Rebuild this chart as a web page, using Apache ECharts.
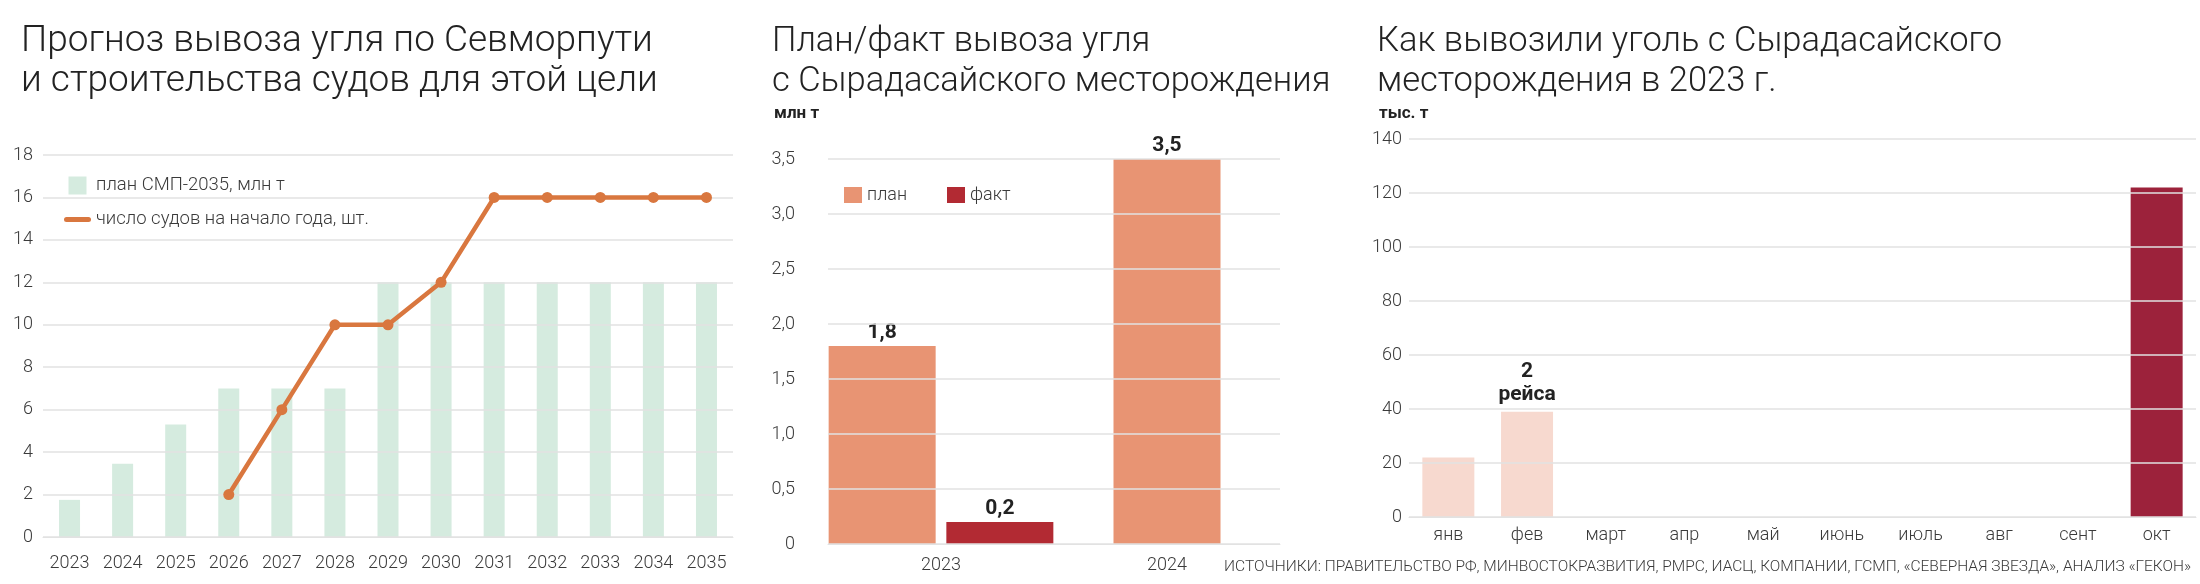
<!DOCTYPE html>
<html>
<head>
<meta charset="utf-8">
<script src="https://cdn.jsdelivr.net/npm/echarts@6/dist/echarts.min.js"></script>
<style>
  html, body { margin: 0; padding: 0; background: #fff; }
  #chart { width: 2200px; height: 584px; }
</style>
</head>
<body>
<div id="chart"></div>
<script>
// chart 1: Севморпуть forecast
const years = ['2023', '2024', '2025', '2026', '2027', '2028', '2029', '2030', '2031', '2032', '2033', '2034', '2035']
const planSmp = [1.75, 3.45, 5.3, 7, 7, 7, 12, 12, 12, 12, 12, 12, 12]
const ships = [null, null, null, 2, 6, 10, 10, 12, 16, 16, 16, 16, 16]

// chart 2: plan / fact, mln t
const planYears = ['2023', '2024']
const plan = [1.8, 3.5]
const fact = [0.2, null]

// chart 3: monthly export 2023, thousand t
const months = ['янв', 'фев', 'март', 'апр', 'май', 'июнь', 'июль', 'авг', 'сент', 'окт']
const exported = [22, 39, null, null, null, null, null, null, null, 122]
const tripNotes = ['', '2\nрейса', '', '', '', '', '', '', '', '']

const FONT = 'Roboto'
const GRID_COLOR = '#e2e2e2'
const TEXT = '#3a3a3a'

const chart = echarts.init(document.getElementById('chart'))

const titleStyle = size => ({ fontFamily: FONT, fontWeight: 300, fontSize: size, lineHeight: 40, color: '#222' })
const unitStyle = { fontFamily: FONT, fontWeight: 'bold', fontSize: 17, color: '#222' }
const tickStyle = { fontFamily: FONT, fontWeight: 300, fontSize: 18, color: TEXT }

function catAxis(gridIndex, data, margin) {
  return {
    type: 'category',
    gridIndex,
    data,
    axisTick: { show: false },
    axisLine: { lineStyle: { color: GRID_COLOR, width: 1 } },
    axisLabel: Object.assign({ margin }, tickStyle)
  }
}

function valAxis(gridIndex, max, interval, margin, formatter) {
  return {
    type: 'value',
    gridIndex,
    min: 0,
    max,
    interval,
    z: 3,
    axisLine: { show: false },
    axisTick: { show: false },
    splitLine: { lineStyle: { color: GRID_COLOR, width: 1.5 } },
    axisLabel: Object.assign({ margin, formatter }, tickStyle)
  }
}

const comma = v => (v === 0 ? '0' : v.toFixed(1).replace('.', ','))

const valueLabel = {
  show: true, position: 'top', distance: 3, formatter: p => comma(p.value),
  fontFamily: FONT, fontWeight: 'bold', fontSize: 21, color: '#222'
}

chart.setOption({
  animation: false,
  title: [
    { text: 'Прогноз вывоза угля по Севморпути\nи строительства судов для этой цели', left: 16, top: 17, textStyle: titleStyle(37) },
    { text: 'План/факт вывоза угля\nс Сырадасайского месторождения', left: 767, top: 17, textStyle: titleStyle(34.5) },
    { text: 'млн т', left: 769, top: 100, textStyle: unitStyle },
    { text: 'Как вывозили уголь с Сырадасайского\nместорождения в 2023 г.', left: 1372, top: 17, textStyle: titleStyle(34.5) },
    { text: 'тыс. т', left: 1374, top: 100, textStyle: unitStyle },
    {
      text: 'ИСТОЧНИКИ: ПРАВИТЕЛЬСТВО РФ, МИНВОСТОКРАЗВИТИЯ, РМРС, ИАСЦ, КОМПАНИИ, ГСМП, «СЕВЕРНАЯ ЗВЕЗДА», АНАЛИЗ «ГЕКОН»',
      right: 4,
      top: 554,
      textStyle: { fontFamily: FONT, fontWeight: 300, fontSize: 15.5, color: TEXT }
    }
  ],
  grid: [
    { left: 43, right: 1467, top: 155, bottom: 47 },
    { left: 828, right: 920, top: 159, bottom: 40 },
    { left: 1409, right: 4, top: 139, bottom: 67 }
  ],
  legend: [
    {
      left: 59,
      top: 171,
      orient: 'vertical',
      itemWidth: 27,
      itemHeight: 18,
      itemGap: 15,
      textStyle: { fontFamily: FONT, fontWeight: 300, fontSize: 18.5, color: TEXT },
      data: [
        { name: 'план СМП-2035, млн т', icon: 'path://M0,0h18v18h-18z' },
        { name: 'число судов на начало года, шт.', icon: 'path://M2.5,0h22a2.5,2.5 0 0 1 0,5h-22a2.5,2.5 0 0 1 0,-5z' }
      ]
    },
    {
      left: 839,
      top: 181,
      itemWidth: 18,
      itemHeight: 16,
      itemGap: 40,
      textStyle: { fontFamily: FONT, fontWeight: 300, fontSize: 18, color: TEXT },
      data: [
        { name: 'план', icon: 'rect' },
        { name: 'факт', icon: 'rect' }
      ]
    }
  ],
  xAxis: [
    catAxis(0, years, 17),
    catAxis(1, planYears, 12),
    Object.assign(catAxis(1, planYears, 12), { show: false }),
    catAxis(2, months, 9)
  ],
  yAxis: [
    valAxis(0, 18, 2, 10),
    valAxis(1, 3.5, 0.5, 33, comma),
    valAxis(2, 140, 20, 7)
  ],
  series: [
    {
      name: 'план СМП-2035, млн т',
      type: 'bar',
      xAxisIndex: 0,
      yAxisIndex: 0,
      barWidth: 21,
      itemStyle: { color: '#d5ebdf' },
      data: planSmp
    },
    {
      name: 'число судов на начало года, шт.',
      type: 'line',
      xAxisIndex: 0,
      yAxisIndex: 0,
      z: 5,
      symbol: 'circle',
      symbolSize: 11,
      lineStyle: { color: '#d9773f', width: 4.5 },
      itemStyle: { color: '#d9773f' },
      data: ships
    },
    {
      name: 'план',
      type: 'bar',
      xAxisIndex: 1,
      yAxisIndex: 1,
      barWidth: 107,
      barGap: '10%',
      itemStyle: { color: '#e89473' },
      label: valueLabel,
      data: plan.map((v, i) => (fact[i] == null ? null : v))
    },
    {
      name: 'факт',
      type: 'bar',
      xAxisIndex: 1,
      yAxisIndex: 1,
      barWidth: 107,
      barGap: '10%',
      itemStyle: { color: '#b22a33' },
      label: valueLabel,
      data: fact
    },
    {
      name: 'план',
      type: 'bar',
      xAxisIndex: 2,
      yAxisIndex: 1,
      barWidth: 107,
      itemStyle: { color: '#e89473' },
      label: valueLabel,
      data: plan.map((v, i) => (fact[i] == null ? v : null))
    },
    {
      name: 'вывоз',
      type: 'bar',
      xAxisIndex: 3,
      yAxisIndex: 2,
      barWidth: 52,
      itemStyle: {
        color: p => (p.dataIndex === months.length - 1 ? '#9c223b' : '#f7d9cf')
      },
      label: {
        show: true, position: 'top', distance: 5,
        formatter: p => tripNotes[p.dataIndex],
        fontFamily: FONT, fontWeight: 'bold', fontSize: 21, lineHeight: 23, color: '#222'
      },
      data: exported
    }
  ]
})
</script>
</body>
</html>
